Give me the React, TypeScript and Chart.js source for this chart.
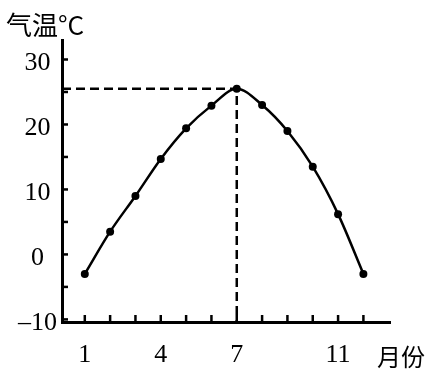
import React, { useEffect, useRef } from "react";
import { Chart, registerables } from "chart.js";

Chart.register(...registerables);

const months = [1, 2, 3, 4, 5, 6, 7, 8, 9, 10, 11, 12];
const temps = [-3, 3.5, 9, 14.7, 19.4, 22.9, 25.5, 23, 19, 13.5, 6.2, -3];
const xLabelMonths = [1, 4, 7, 11];
const yLabelValues = [-10, 0, 10, 20, 30];
const peakMonth = 7;
const peakTemp = 25.5;
const yMin = -10.4;
const yMax = 33;
const xMin = 0.1;
const xMax = 13.05;
const yTitle = "气温°C";
const xTitle = "月份";

const serif = "'Liberation Serif', 'DejaVu Serif', serif";
const cjk = "'Noto Sans CJK SC', sans-serif";

const decorPlugin = {
  id: "decor",
  afterDraw(chart: any) {
    const { ctx, scales, chartArea } = chart;
    const xs = scales.x;
    const ys = scales.y;
    ctx.save();
    ctx.strokeStyle = "#000";
    ctx.lineWidth = 2.5;
    for (let v = -10; v <= 30; v += 5) {
      const py = ys.getPixelForValue(v);
      ctx.beginPath();
      ctx.moveTo(chartArea.left, py);
      ctx.lineTo(chartArea.left + 6, py);
      ctx.stroke();
    }
    for (const m of months) {
      const px = xs.getPixelForValue(m);
      ctx.beginPath();
      ctx.moveTo(px, chartArea.bottom);
      ctx.lineTo(px, chartArea.bottom - 7);
      ctx.stroke();
    }
    ctx.fillStyle = "#000";
    ctx.textBaseline = "middle";
    ctx.textAlign = "left";
    ctx.font = `26px ${cjk}`;
    ctx.fillText(yTitle, 6, 25);
    ctx.font = `24px ${cjk}`;
    ctx.fillText(xTitle, 377, 357);
    ctx.restore();
  },
};

export default function App() {
  const ref = useRef<HTMLCanvasElement | null>(null);
  useEffect(() => {
    if (!ref.current) return;
    const chart = new Chart(ref.current, {
      type: "line",
      data: {
        datasets: [
          {
            data: months.map((m, i) => ({ x: m, y: temps[i] })),
            borderColor: "#000",
            backgroundColor: "#000",
            borderWidth: 2.5,
            pointRadius: 4,
            pointBackgroundColor: "#000",
            pointBorderWidth: 0,
            cubicInterpolationMode: "monotone",
          },
          {
            data: [
              { x: xMin, y: peakTemp },
              { x: peakMonth, y: peakTemp },
              { x: peakMonth, y: yMin },
            ],
            borderColor: "#000",
            borderWidth: 2.5,
            borderDash: [9, 5],
            pointRadius: 0,
            tension: 0,
          },
        ],
      },
      options: {
        animation: false,
        responsive: false,
        maintainAspectRatio: false,
        layout: { padding: { top: 40, right: 36, left: 0, bottom: 0 } },
        plugins: { legend: { display: false }, tooltip: { enabled: false } },
        scales: {
          x: {
            type: "linear",
            min: xMin,
            max: xMax,
            afterBuildTicks: (scale: any) => {
              scale.ticks = xLabelMonths.map((v) => ({ value: v }));
            },
            afterFit: (scale: any) => {
              scale.height = 52;
            },
            grid: { display: false, drawTicks: false },
            border: { display: true, color: "#000", width: 3 },
            ticks: {
              padding: 18,
              color: "#000",
              font: { family: serif, size: 26 },
              maxRotation: 0,
              autoSkip: false,
              callback: (v: any) => String(v),
            },
          },
          y: {
            type: "linear",
            min: yMin,
            max: yMax,
            afterBuildTicks: (scale: any) => {
              scale.ticks = yLabelValues.map((v) => ({ value: v }));
            },
            afterFit: (scale: any) => {
              scale.width = 62;
            },
            grid: { display: false, drawTicks: false },
            border: { display: true, color: "#000", width: 3 },
            ticks: {
              padding: 5,
              crossAlign: "center",
              labelOffset: 4,
              color: "#000",
              font: { family: serif, size: 26 },
              autoSkip: false,
              callback: (v: any) => (v < 0 ? "\u2013" + String(-v) : String(v)),
            },
          },
        },
      },
      plugins: [decorPlugin],
    } as any);
    return () => chart.destroy();
  }, []);
  return (
    <div style={{ position: "fixed", left: 0, top: 0, width: 426, height: 374, background: "#fff" }}>
      <canvas ref={ref} width={426} height={374} style={{ width: 426, height: 374 }} />
    </div>
  );
}
